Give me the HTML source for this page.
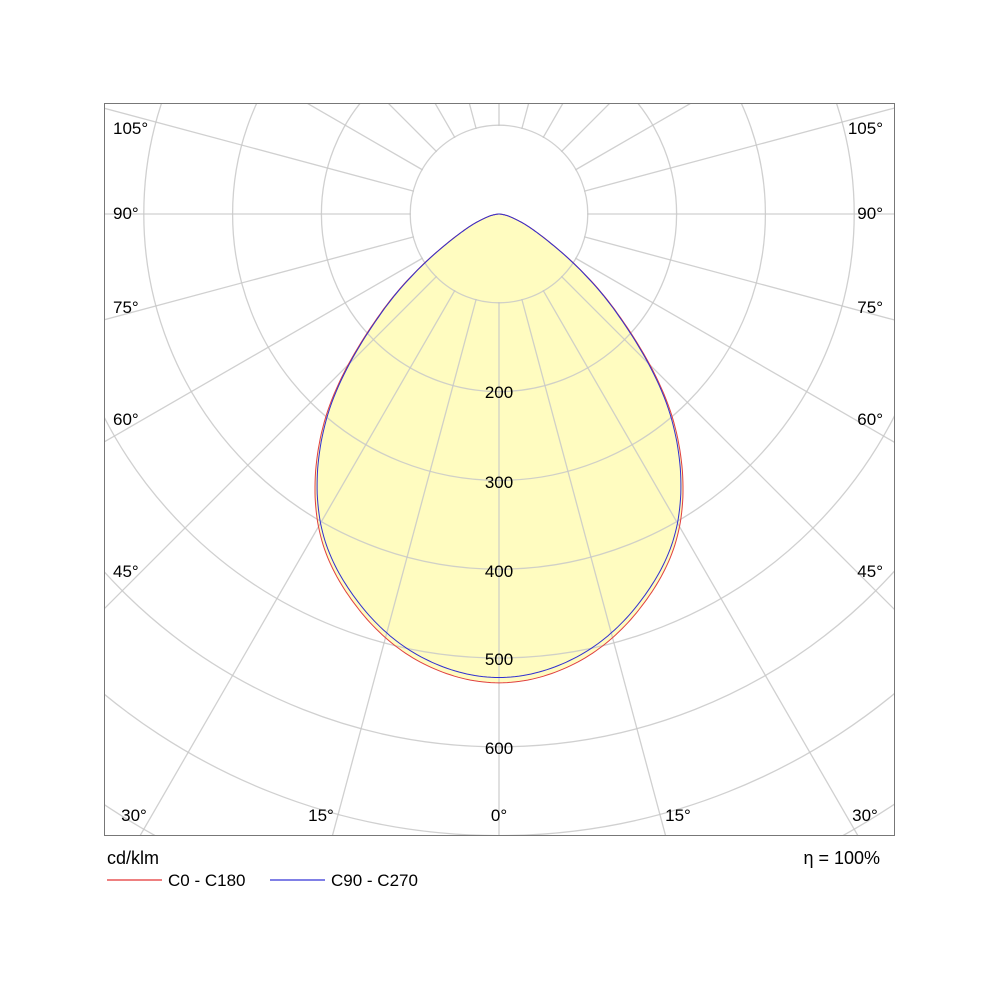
<!DOCTYPE html>
<html><head><meta charset="utf-8"><style>
html,body{margin:0;background:#fff;overflow:hidden;width:1000px;height:1000px}
svg{display:block}
svg text{font-family:"Liberation Sans",sans-serif;font-size:17px;fill:#000}
</style></head><body>
<svg id="s" width="1000" height="1000" xmlns="http://www.w3.org/2000/svg">
<defs><clipPath id="c"><rect x="104" y="103" width="791" height="733"/></clipPath></defs>
<rect x="0" y="0" width="1000" height="1000" fill="#fff"/>
<g id="fill" clip-path="url(#c)"></g>
<g id="grid" clip-path="url(#c)" stroke="#c8c8c8" stroke-opacity="0.85" fill="none" stroke-width="1.3"></g>
<g id="curves" clip-path="url(#c)" fill="none"></g>
<rect x="104.5" y="103.5" width="790" height="732" fill="none" stroke="#777" stroke-width="1"/>
<g text-anchor="middle">
<text x="499" y="398">200</text><text x="499" y="488">300</text><text x="499" y="577">400</text>
<text x="499" y="665">500</text><text x="499" y="754">600</text>
<text x="499" y="821">0°</text><text x="321" y="821">15°</text><text x="678" y="821">15°</text>
<text x="134" y="821">30°</text><text x="865" y="821">30°</text>
</g>
<g>
<text x="113" y="134">105°</text><text x="113" y="219">90°</text><text x="113" y="313">75°</text>
<text x="113" y="425">60°</text><text x="113" y="577">45°</text>
</g>
<g text-anchor="end">
<text x="883" y="134">105°</text><text x="883" y="219">90°</text><text x="883" y="313">75°</text>
<text x="883" y="425">60°</text><text x="883" y="577">45°</text>
</g>
<text x="107" y="864" style="font-size:18px">cd/klm</text>
<text x="880" y="864" text-anchor="end" style="font-size:18px">η = 100%</text>
<line x1="107" y1="880" x2="162" y2="880" stroke="#d00" stroke-width="1"/>
<text x="168" y="886">C0 - C180</text>
<line x1="270" y1="880" x2="325" y2="880" stroke="#00c" stroke-width="1"/>
<text x="331" y="886">C90 - C270</text>
</svg>
<script>
var NS="http://www.w3.org/2000/svg",cx=499,cy=214,k=0.888;
function el(p,t,a){var e=document.createElementNS(NS,t);for(var i in a)e.setAttribute(i,a[i]);p.appendChild(e);return e;}
var g=document.getElementById('grid');
for(var v=100;v<=1000;v+=100)el(g,'circle',{cx:cx,cy:cy,r:v*k});
for(var a=0;a<360;a+=15){var t=a*Math.PI/180;el(g,'line',{x1:cx+88*Math.sin(t),y1:cy+88*Math.cos(t),x2:cx+1200*Math.sin(t),y2:cy+1200*Math.cos(t)});}
var A=[-10,0,10,20,30,40,50,60,70,80,90,100],
V=[.97,1,.97,.89,.77,.58,.33,.135,.05,.015,0,.015];
function f(d){for(var i=1;i<A.length-2;i++)if(d<=A[i+1]){var u=(d-A[i])/10,p0=V[i-1],p1=V[i],p2=V[i+1],p3=V[i+2];
return Math.max(0,0.5*((2*p1)+(-p0+p2)*u+(2*p0-5*p1+4*p2-p3)*u*u+(-p0+3*p1-3*p2+p3)*u*u*u));}return 0;}
function path(I0){var p=[];for(var d=-90;d<=90;d+=0.5){var r=I0*k*f(Math.abs(d)),t=d*Math.PI/180;p.push((cx+r*Math.sin(t)).toFixed(1)+','+(cy+r*Math.cos(t)).toFixed(1));}return 'M'+p.join('L')+'Z';}
el(document.getElementById('fill'),'path',{d:path(528),fill:'#fffcc0'});
var c=document.getElementById('curves');
el(c,'path',{d:path(528),stroke:'#e04040','stroke-width':1});
el(c,'path',{d:path(522),stroke:'#3030d0','stroke-width':1});
</script>
</body></html>
